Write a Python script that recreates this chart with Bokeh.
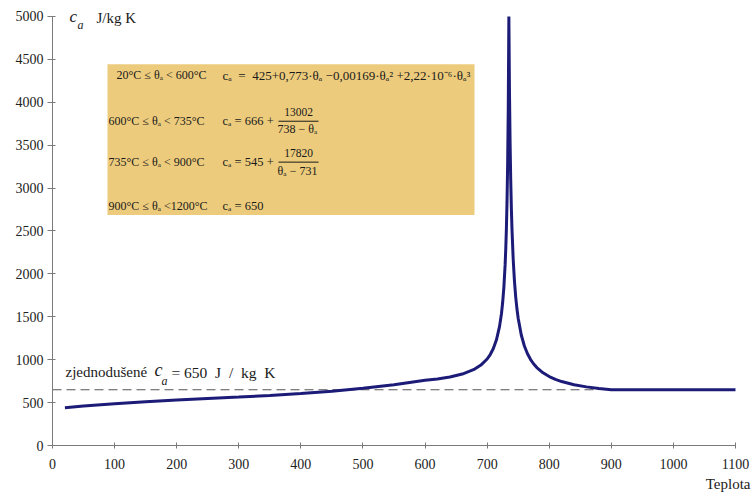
from bokeh.plotting import figure
from bokeh.models import Label, Range1d, BoxAnnotation, FixedTicker, Title
from bokeh.embed import file_html
from bokeh.resources import INLINE

# ---- data ----
temperature = [20, 50, 100, 150, 200, 250, 300, 350, 400, 450, 500, 550, 600,
               620, 640, 660, 680, 690, 700, 705, 710, 715, 720, 723, 725, 727,
               729, 730, 731, 732, 733, 734, 735,
               736, 737, 738, 739, 740, 742, 744, 746, 748, 750, 755, 760, 765,
               770, 775, 780, 790, 800, 810, 820, 840, 860, 880, 900, 1000, 1100]
ca = [439.8, 459.7, 487.6, 510.4, 529.8, 547.3, 564.7, 583.7, 605.9, 632.9, 666.5, 708.3, 760.2,
      776.2, 798.7, 832.7, 890.2, 936.9, 1008.2, 1060.0, 1130.4, 1231.3, 1388.3, 1532.8, 1666.2, 1848.0,
      2110.7, 2291.3, 2523.4, 2833.0, 3266.4, 3916.5, 5000.0,
      4109.0, 3515.0, 3090.7, 2772.5, 2525.0, 2165.0, 1915.8, 1733.0, 1593.2, 1482.9, 1287.5, 1159.5, 1069.1,
      1001.9, 950.0, 908.7, 847.0, 803.3, 770.6, 745.2, 708.5, 683.1, 664.6, 650.4, 650.0, 650.0]
simplified_ca = 650
simplified_x = [0, 880]
x_ticks = [0, 100, 200, 300, 400, 500, 600, 700, 800, 900, 1000, 1100]
y_ticks = [0, 500, 1000, 1500, 2000, 2500, 3000, 3500, 4000, 4500, 5000]

W, H = 756, 494
LEFT, BOTTOM = 52, 48
XMAX, YMAX = 1100, 5000
AX_W, AX_H = 683, 430          # pixel length of the drawn axes
XPX, YPX = AX_W / XMAX, AX_H / YMAX
X_END = (W - LEFT) / XPX
Y_END = (H - BOTTOM) / YPX


def dx(px):
    return (px - LEFT) / XPX


def dy(py):
    return (H - BOTTOM - py) / YPX


SERIF = "Liberation Serif"
NB = "\u00a0"

p = figure(width=W, height=H, output_backend="svg", toolbar_location=None,
           x_range=Range1d(0, X_END), y_range=Range1d(0, Y_END),
           min_border_left=LEFT, min_border_right=0,
           min_border_top=0, min_border_bottom=BOTTOM)
p.background_fill_color = "white"
p.border_fill_color = "white"
p.outline_line_color = None
p.grid.visible = False

for ax in (p.xaxis[0], p.yaxis[0]):
    ax.axis_line_color = "#7a7a7a"
    ax.major_tick_line_color = "#7a7a7a"
    ax.minor_tick_line_color = None
    ax.major_label_text_font = SERIF
    ax.major_label_text_font_size = "14px"
    ax.major_label_text_color = "#222222"
p.xaxis.ticker = FixedTicker(ticks=x_ticks)
p.yaxis.ticker = FixedTicker(ticks=y_ticks)
p.xaxis.bounds = (0, XMAX)
p.yaxis.bounds = (0, YMAX)
p.xaxis.major_tick_in = 3
p.xaxis.major_tick_out = 3
p.xaxis.major_label_standoff = 10
p.yaxis.major_tick_in = 3
p.yaxis.major_tick_out = 5
p.yaxis.major_label_standoff = 4

p.add_layout(Title(text="Teplota", align="right", text_font=SERIF, text_font_size="15px",
                   text_font_style="normal", text_color="#1a1a1a", offset=6, standoff=5),
             "below")

# formula box
p.add_layout(BoxAnnotation(left=dx(107), right=dx(474), top=dy(64), bottom=dy(215),
                           fill_color="#eccb7c", fill_alpha=1.0, line_color=None, level="underlay"))

# simplified constant
p.line(simplified_x, [simplified_ca, simplified_ca], line_color="#555555", line_width=1.2,
       line_dash="9 5")

# curve
p.line(temperature, ca, line_color="#1c1c78", line_width=3)


def lab(px, py, txt, size="12px", style="normal", align="left", color="#1a1a1a"):
    p.add_layout(Label(x=dx(px), y=dy(py), text=txt, text_font=SERIF, text_font_size=size,
                       text_font_style=style, text_align=align, text_baseline="middle",
                       text_color=color))


# axis title (top-left)
lab(69, 16, "c", "17px", "italic")
lab(77, 25, "a", "12px", "italic")
lab(96, 18, "J/kg K", "15px")

# simplified label
lab(65, 372, "zjednodušené", "15px")
lab(154, 370, "c", "18px", "italic")
lab(161, 381, "a", "12px", "italic")
lab(171, 373, "= 650" + NB + " J" + NB + " /" + NB + " kg" + NB + " K", "15.5px")

# formulas
F = "13px"
F2 = "12.5px"
lab(116, 75, "20°C ≤ θₐ < 600°C")
lab(222, 75, "cₐ" + NB + " =" + NB + " 425+0,773·θₐ −0,00169·θₐ² +2,22·10⁻⁶·θₐ³", F)

lab(108, 121, "600°C ≤ θₐ < 735°C")
lab(222, 121, "cₐ = 666 +", F2)
lab(298, 112, "13002", "11.5px", align="center")
lab(297, 129, "738 − θₐ", align="center")

lab(108, 162, "735°C ≤ θₐ < 900°C")
lab(222, 162, "cₐ = 545 +", F2)
lab(298, 153, "17820", "11.5px", align="center")
lab(297, 171, "θₐ − 731", align="center")

lab(108, 206, "900°C ≤ θₐ <1200°C")
lab(222, 206, "cₐ = 650", F2)

p.segment(x0=[dx(278), dx(278)], y0=[dy(121), dy(162)], x1=[dx(318), dx(318)],
          y1=[dy(121), dy(162)], line_color="#1a1a1a", line_width=1)

open("out.html", "w").write(file_html(p, INLINE))
